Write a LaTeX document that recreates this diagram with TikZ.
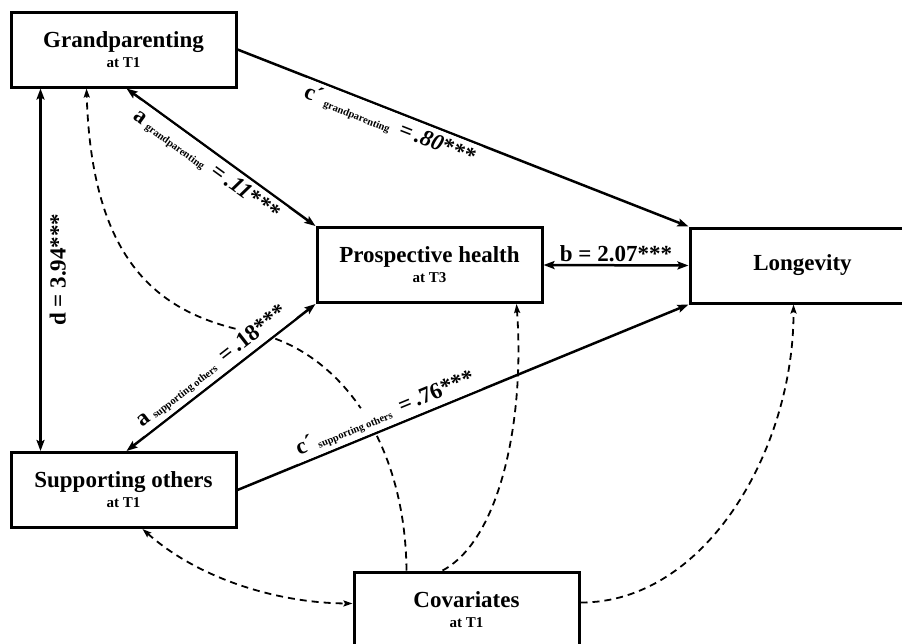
\documentclass[tikz,border=0pt]{standalone}
\usepackage{fontspec}
\setmainfont{Liberation Serif}
\usetikzlibrary{arrows.meta,calc}
\newcommand{\coefl}[3]{#1\,\raisebox{-1pt}{\fontsize{10.5}{10.5}\selectfont #2}\ \,=\,#3***}
\newcommand{\subt}[1]{{\fontsize{15}{20}\selectfont #1}}
\begin{document}
\begin{tikzpicture}[x=1pt,y=-1pt,
  box/.style={draw, line width=3pt, minimum width=225pt, minimum height=75pt,
    inner sep=0pt, align=center, font=\fontsize{23}{20}\selectfont\bfseries},
  sarr/.style={line width=2.5pt, -{Stealth[length=11pt,width=8pt,inset=2pt]}},
  sdbl/.style={line width=2.5pt, {Stealth[length=11pt,width=8pt,inset=2pt]}-{Stealth[length=11pt,width=8pt,inset=2pt]}},
  darr/.style={line width=1.8pt, dash pattern=on 7pt off 5pt, -{Stealth[length=9pt,width=6pt,inset=1.5pt]}},
  ddbl/.style={line width=1.8pt, dash pattern=on 7pt off 5pt, {Stealth[length=9pt,width=6pt,inset=1.5pt]}-{Stealth[length=9pt,width=6pt,inset=1.5pt]}},
  lbl/.style={font=\fontsize{23}{23}\selectfont\bfseries},
  coef/.style={lbl, fill=white, inner sep=4pt, sloped}]
\useasboundingbox (0,0) rectangle (902,643);
\clip (0,0) rectangle (902,643);

\node[box] (G) at (123.5,49.5) {Grandparenting\\\subt{at T1}};
\node[box] (PH) at (429.5,265) {Prospective health\\\subt{at T3}};
\node[box] (L) at (802.5,265.5) {Longevity};
\node[box] (S) at (123.5,490) {Supporting others\\\subt{at T1}};
\node[box] (C) at (466.5,609.5) {Covariates\\\subt{at T1}};

% dashed covariate paths
\coordinate (w1) at (255,333);
\draw[darr] ($(C.north west)+(54,0)$) .. controls (405,430) and (330,348) .. (w1)
  .. controls (165,316) and (92,270) .. ($(G.south west)+(77,0)$);
\draw[darr] ($(C.north west)+(90,0)$) .. controls (500,540) and (525,420) .. ($(PH.south west)+(201,0)$);
\draw[darr] ($(C.east)+(0,-7)$) .. controls (705,603) and (794,450) .. ($(L.south)+(-9,0)$);
\draw[ddbl] ($(S.south west)+(133,0)$) .. controls (200,580) and (280,603) .. ($(C.west)+(0,-6)$);

% solid paths
\draw[sarr] (G.east) -- node[coef, below, pos=0.35] {\coefl{c´}{grandparenting}{\textit{.80}}} (L.north west);
\draw[sdbl] ($(G.south)+(3,0)$) -- node[coef, below, pos=0.47] {\coefl{a}{grandparenting}{\textit{.11}}} (PH.north west);
\draw[sdbl] ($(S.north)+(3,0)$) -- node[coef, above, pos=0.5] {\coefl{a}{supporting others}{.18}} (PH.south west);
\draw[sarr] (S.east) -- node[coef, above, pos=0.34] {\coefl{c´}{supporting others}{.76}} (L.south west);
\draw[sdbl] (PH.east) -- node[lbl, above, inner sep=2pt] {b = 2.07***} (L.west);
\draw[sdbl] ($(G.south west)+(31,0)$) -- node[lbl, midway, anchor=north, rotate=90, inner sep=8pt] {d = 3.94***} ($(S.north west)+(31,0)$);
\end{tikzpicture}
\end{document}
